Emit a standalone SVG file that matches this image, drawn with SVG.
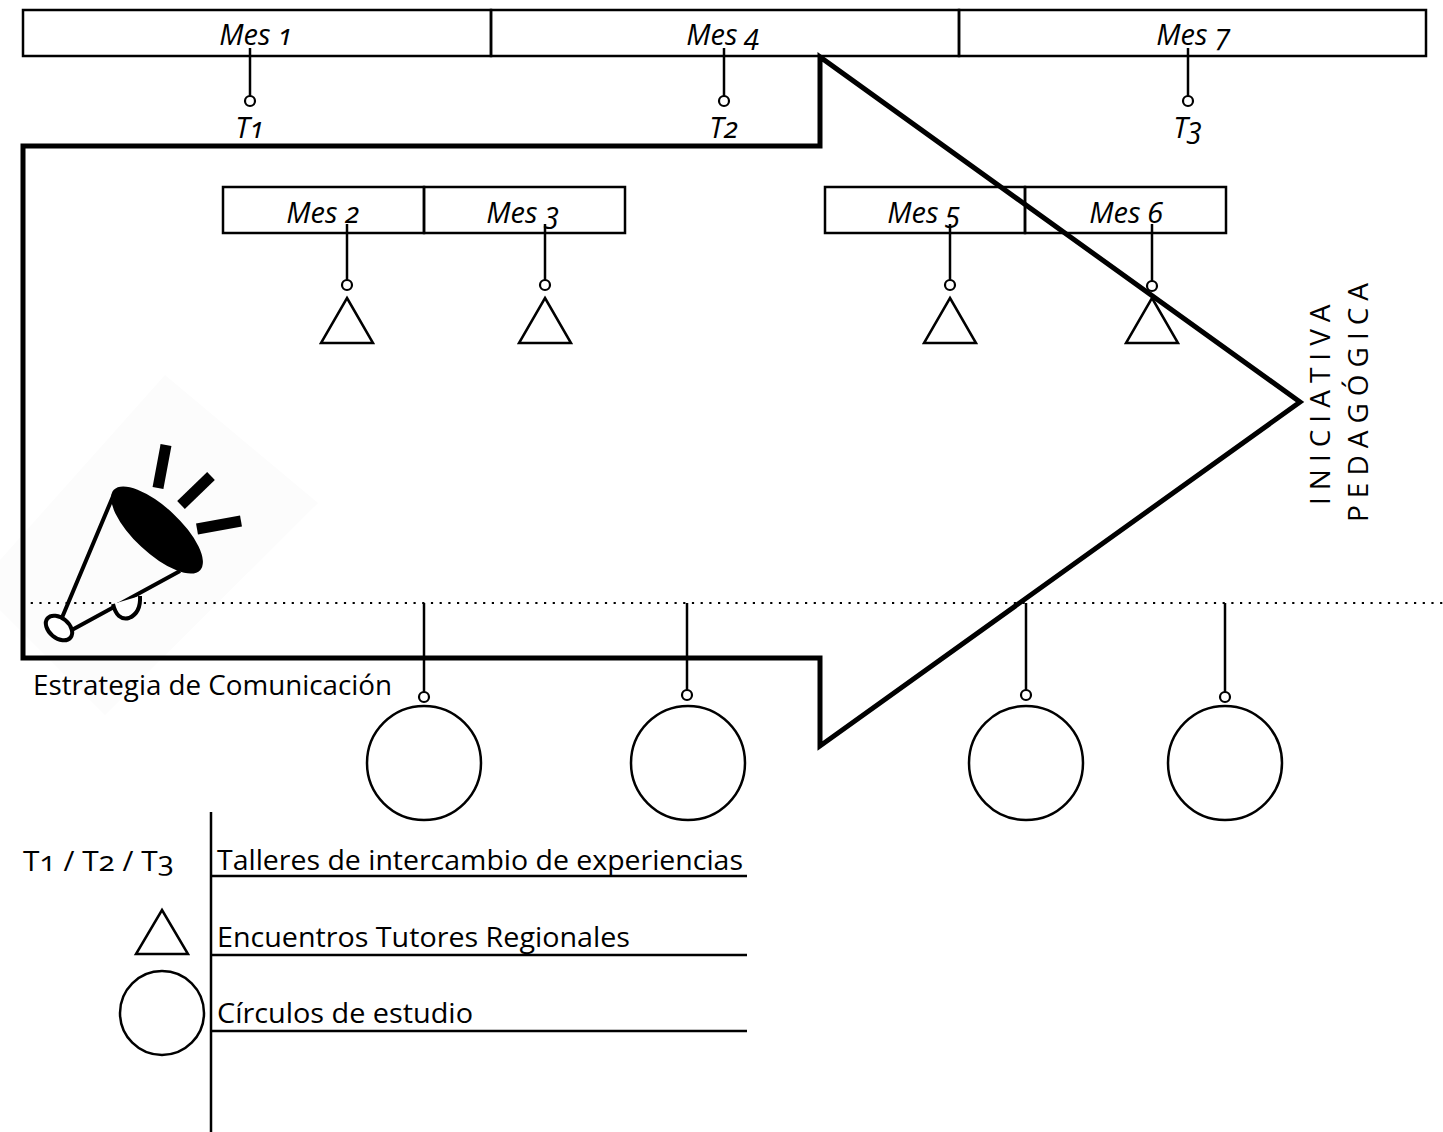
<svg xmlns="http://www.w3.org/2000/svg" width="1443" height="1132" viewBox="0 0 1443 1132">
<style>
.box{fill:none;stroke:#000;stroke-width:2.5}
.conn{stroke:#000;stroke-width:2.5;fill:none}
.knob{fill:#fff;stroke:#000;stroke-width:2.2}
.tri{fill:none;stroke:#000;stroke-width:2.5;stroke-linejoin:miter}
.big{fill:#fff;stroke:#000;stroke-width:2.5}
.mes{font-family:"Open Sans","Noto Sans",sans-serif;font-style:italic;font-size:29px;fill:#000;text-anchor:middle;font-variant-numeric:oldstyle-nums}
.lbl{font-family:"Open Sans","Noto Sans",sans-serif;font-size:27px;fill:#000;font-variant-numeric:oldstyle-nums}
.vert{font-family:"Open Sans","Noto Sans",sans-serif;font-size:28px;font-weight:400;fill:#000;letter-spacing:7px}
.bar{stroke:#000;stroke-width:11;stroke-linecap:butt}
</style>
<rect width="1443" height="1132" fill="#fff"/>

<!-- faint background behind megaphone -->
<polygon points="165,375 318,503 105,715 0,610 0,560" fill="#fcfcfc"/>

<!-- top month bar -->
<g id="top-bar">
<rect class="box" x="23" y="10" width="468" height="46"/>
<rect class="box" x="491" y="10" width="468" height="46"/>
<rect class="box" x="959" y="10" width="467" height="46"/>
<text class="mes" x="256" y="45">Mes 1</text>
<text class="mes" x="723" y="45">Mes 4</text>
<text class="mes" x="1193" y="45">Mes 7</text>
</g>

<!-- middle month boxes -->
<g id="mid-bar-left">
<rect class="box" x="223" y="187" width="201" height="46"/>
<rect class="box" x="424" y="187" width="201" height="46"/>
<text class="mes" x="323" y="223">Mes 2</text>
<text class="mes" x="523" y="223">Mes 3</text>
</g>
<g id="mid-bar-right">
<rect class="box" x="825" y="187" width="200" height="46"/>
<rect class="box" x="1025" y="187" width="201" height="46"/>
<text class="mes" x="924" y="223">Mes 5</text>
<text class="mes" x="1126" y="223">Mes 6</text>
</g>

<!-- dotted line -->
<line x1="22" y1="603" x2="1443" y2="603" stroke="#000" stroke-width="2.2" stroke-dasharray="2.2 6.5"/>

<!-- connectors -->
<g id="connectors">
<line class="conn" x1="250" y1="48" x2="250" y2="96"/>
<line class="conn" x1="724" y1="48" x2="724" y2="96"/>
<line class="conn" x1="1188" y1="48" x2="1188" y2="96"/>
<line class="conn" x1="347" y1="224" x2="347" y2="280"/>
<line class="conn" x1="545" y1="224" x2="545" y2="280"/>
<line class="conn" x1="950" y1="224" x2="950" y2="280"/>
<line class="conn" x1="1152" y1="224" x2="1152" y2="281"/>
<line class="conn" x1="424" y1="603" x2="424" y2="692"/>
<line class="conn" x1="687" y1="603" x2="687" y2="690"/>
<line class="conn" x1="1026" y1="603" x2="1026" y2="690"/>
<line class="conn" x1="1225" y1="603" x2="1225" y2="692"/>
</g>

<!-- big arrow -->
<g id="arrow">
<polygon points="23,146 820,146 820,57 1300,402 820,746 820,658 23,658" fill="none" stroke="#000" stroke-width="5" stroke-linejoin="miter"/>
</g>

<!-- T nodes -->
<g id="t1"><circle class="knob" cx="250" cy="101" r="5"/><text class="mes" x="250" y="138">T1</text></g>
<g id="t2"><circle class="knob" cx="724" cy="101" r="5"/><text class="mes" x="724" y="138">T2</text></g>
<g id="t3"><circle class="knob" cx="1188" cy="101" r="5"/><text class="mes" x="1188" y="138">T3</text></g>

<!-- triangle nodes -->
<g id="tri-mes2"><circle class="knob" cx="347" cy="285" r="5"/><polygon class="tri" points="347,298 373,343 321,343"/></g>
<g id="tri-mes3"><circle class="knob" cx="545" cy="285" r="5"/><polygon class="tri" points="545,298 571,343 519,343"/></g>
<g id="tri-mes5"><circle class="knob" cx="950" cy="285" r="5"/><polygon class="tri" points="950,298 976,343 924,343"/></g>
<g id="tri-mes6"><circle class="knob" cx="1152" cy="286" r="5"/><polygon class="tri" points="1152,298 1178,343 1126,343"/></g>

<!-- circle nodes -->
<g id="circle-1"><circle class="knob" cx="424" cy="697" r="5"/><circle class="big" cx="424" cy="763" r="57"/></g>
<g id="circle-2"><circle class="knob" cx="687" cy="695" r="5"/><circle class="big" cx="688" cy="763" r="57"/></g>
<g id="circle-3"><circle class="knob" cx="1026" cy="695" r="5"/><circle class="big" cx="1026" cy="763" r="57"/></g>
<g id="circle-4"><circle class="knob" cx="1225" cy="697" r="5"/><circle class="big" cx="1225" cy="763" r="57"/></g>

<!-- vertical title -->
<g id="title">
<text class="vert" transform="translate(1330,505) rotate(-90)">INICIATIVA</text>
<text class="vert" transform="translate(1368,522) rotate(-90)">PEDAGÓGICA</text>
</g>

<!-- megaphone -->
<g id="megaphone">
<line class="bar" x1="166" y1="445" x2="158" y2="488"/>
<line class="bar" x1="211" y1="476" x2="181" y2="505"/>
<line class="bar" x1="197" y1="529" x2="241" y2="521"/>
<path d="M114,494 L61,620 M180,571 L70,631" stroke="#000" stroke-width="4" fill="none"/>
<path d="M113,604 Q117,621 129,618 Q141,613 140,596" stroke="#000" stroke-width="4" fill="#fff"/>
<ellipse cx="157" cy="530" rx="59" ry="23" transform="rotate(43 157 530)" fill="#000"/>
<ellipse cx="59" cy="628" rx="15" ry="10" transform="rotate(40 59 628)" fill="#fff" stroke="#000" stroke-width="4"/>
</g>
<text class="lbl" x="33" y="695" textLength="359" lengthAdjust="spacingAndGlyphs">Estrategia de Comunicación</text>

<!-- legend -->
<g id="legend">
<line x1="211" y1="812" x2="211" y2="1132" stroke="#000" stroke-width="2.5"/>
<line x1="211" y1="876" x2="747" y2="876" stroke="#000" stroke-width="2.5"/>
<line x1="211" y1="955" x2="747" y2="955" stroke="#000" stroke-width="2.5"/>
<line x1="211" y1="1031" x2="747" y2="1031" stroke="#000" stroke-width="2.5"/>
<text class="lbl" x="23" y="871" textLength="151" lengthAdjust="spacingAndGlyphs">T1 / T2 / T3</text>
<text class="lbl" x="217" y="870" textLength="526" lengthAdjust="spacingAndGlyphs">Talleres de intercambio de experiencias</text>
<polygon class="tri" points="162,910 188,954 136,954"/>
<text class="lbl" x="217" y="947" textLength="413" lengthAdjust="spacingAndGlyphs">Encuentros Tutores Regionales</text>
<circle class="big" cx="162" cy="1013" r="42"/>
<text class="lbl" x="217" y="1023" textLength="256" lengthAdjust="spacingAndGlyphs">Círculos de estudio</text>
</g>
</svg>
